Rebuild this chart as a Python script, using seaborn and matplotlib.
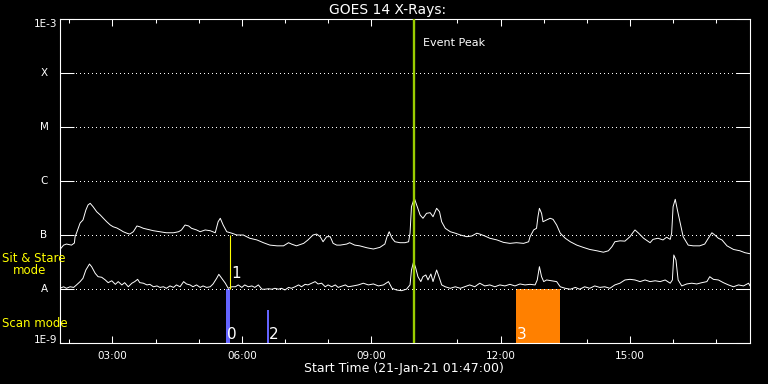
import numpy as np
import pandas as pd
import matplotlib
matplotlib.use("Agg")
import matplotlib.pyplot as plt
import matplotlib.dates as mdates
from matplotlib.ticker import NullLocator
import seaborn as sns

# time window of the plot
start = pd.Timestamp("2021-01-21 01:47:00")
end = pd.Timestamp("2021-01-21 17:47:00")

# long channel (1-8 A), minutes after start and flux in 1e-8 W/m^2
long_min = [0, 5, 9, 16, 20, 21, 23, 28, 32, 36,
            39, 42, 46, 51, 56, 60, 65, 70, 74, 79,
            84, 88, 93, 97, 102, 107, 111, 116, 121, 130,
            139, 148, 158, 165, 169, 174, 179, 183, 190, 195,
            202, 209, 216, 220, 223, 227, 232, 239, 246, 255,
            264, 274, 283, 292, 302, 311, 318, 322, 329, 339,
            345, 352, 357, 362, 366, 371, 376, 380, 385, 390,
            399, 403, 410, 417, 427, 436, 445, 452, 455, 458,
            462, 466, 473, 480, 485, 487, 489, 493, 497, 501,
            505, 510, 515, 519, 524, 528, 531, 536, 543, 550,
            557, 566, 573, 580, 584, 591, 598, 608, 617, 626,
            635, 645, 652, 654, 659, 663, 665, 667, 670, 672,
            677, 682, 686, 691, 696, 703, 710, 719, 728, 737,
            747, 756, 763, 768, 772, 779, 786, 793, 798, 800,
            805, 812, 821, 825, 832, 839, 844, 849, 851, 853,
            856, 859, 863, 867, 874, 881, 890, 897, 902, 907,
            911, 916, 921, 928, 937, 946, 953, 960]
long_flux = [5.4, 6.5, 6.8, 6.5, 7.1, 9.3, 10.9, 16.7, 19.0, 29,
             36, 38.6, 33.4, 27, 23.5, 20.6, 17.6, 15.3, 14.2, 13.5,
             12.4, 11.5, 10.8, 10.4, 11.5, 14.7, 14.2, 13.3, 12.8, 12.0,
             11.5, 11.0, 11.0, 11.5, 12.4, 15.3, 14.7, 13.3, 12.4, 11.5,
             12.4, 12.0, 11.0, 17.6, 20.4, 15.3, 11.5, 10.8, 10.0, 10.0,
             8.7, 8.1, 7.2, 6.5, 6.3, 6.3, 7.2, 6.8, 6.3, 7.0,
             8.1, 10.0, 10.4, 9.3, 7.5, 9.3, 9.3, 7.0, 6.5, 6.5,
             6.8, 7.2, 6.5, 6.3, 5.8, 5.5, 5.9, 6.8, 9.3, 11.5,
             8.7, 7.5, 7.2, 7.2, 7.5, 10.8, 33.4, 47.8, 33.4, 23.5,
             20.4, 25.2, 25.9, 21.8, 31.2, 27, 17.6, 13.3, 11.5, 10.8,
             10.0, 9.3, 9.6, 10.8, 10.4, 9.6, 8.7, 8.1, 7.3, 7.0,
             7.2, 7.0, 7.5, 9.3, 12.4, 13.3, 21.8, 31.2, 25.2, 17.6,
             19.0, 20.4, 19.5, 15.3, 10.8, 8.7, 7.5, 6.5, 5.9, 5.4,
             5.1, 4.8, 5.1, 6.1, 7.5, 7.8, 7.7, 9.3, 11.5, 12.4,
             10.8, 8.7, 7.2, 8.3, 8.7, 8.1, 9.1, 8.3, 10.8, 33.4,
             45.8, 29, 16.5, 9.3, 6.5, 6.3, 6.3, 6.8, 8.7, 11.0,
             10.0, 8.7, 8.1, 6.3, 5.4, 5.1, 4.7, 4.5]

# short channel (0.5-4 A), same units
short_min = [0, 5, 9, 14, 19, 23, 28, 32, 36, 41,
             44, 49, 53, 58, 63, 67, 72, 77, 81, 86,
             90, 95, 100, 104, 108, 111, 116, 121, 125, 130,
             135, 139, 144, 148, 153, 158, 162, 167, 172, 176,
             181, 185, 190, 195, 199, 204, 209, 213, 218, 221,
             225, 230, 234, 239, 244, 248, 253, 257, 262, 267,
             271, 276, 281, 285, 290, 295, 299, 304, 308, 313,
             318, 322, 327, 332, 336, 341, 345, 350, 355, 359,
             364, 369, 373, 378, 383, 387, 397, 401, 408, 415,
             422, 429, 436, 443, 450, 457, 462, 468, 475, 482,
             487, 489, 492, 495, 498, 502, 505, 509, 512, 516,
             519, 524, 528, 531, 536, 543, 550, 557, 563, 570,
             577, 584, 591, 598, 605, 612, 619, 626, 633, 640,
             647, 654, 661, 664, 667, 670, 673, 677, 684, 691,
             696, 703, 710, 717, 723, 730, 737, 744, 751, 758,
             765, 772, 779, 786, 793, 800, 807, 814, 821, 828,
             835, 842, 849, 852, 854, 857, 860, 865, 872, 879,
             886, 893, 900, 904, 909, 916, 923, 930, 937, 944,
             951, 958, 960]
short_flux = [1.03, 1.10, 1.03, 1.10, 1.07, 1.19, 1.37, 1.58, 2.25, 2.90,
              2.59, 1.95, 1.69, 1.65, 1.47, 1.31, 1.42, 1.22, 1.37, 1.19,
              1.31, 1.10, 1.28, 1.37, 1.51, 1.31, 1.28, 1.19, 1.22, 1.10,
              1.14, 1.07, 1.10, 1.03, 1.14, 1.07, 1.19, 1.10, 1.37, 1.24,
              1.19, 1.10, 1.19, 1.07, 1.14, 1.07, 1.10, 1.24, 1.58, 1.87,
              1.58, 1.28, 1.03, 1.10, 1.10, 1.19, 1.07, 1.19, 1.10, 1.14,
              1.07, 1.19, 0.99, 0.99, 1.01, 0.99, 1.03, 0.99, 1.03, 0.96,
              1.07, 1.03, 1.10, 1.19, 1.10, 1.22, 1.19, 1.28, 1.37, 1.24,
              1.28, 1.10, 1.19, 1.10, 1.19, 1.07, 1.19, 1.10, 1.14, 1.19,
              1.28, 1.19, 1.24, 1.14, 1.19, 1.37, 1.03, 0.96, 0.93, 0.99,
              1.19, 2.25, 3.20, 2.42, 1.69, 1.37, 1.69, 1.82, 1.47, 1.90,
              1.37, 2.25, 1.58, 1.19, 1.10, 1.03, 1.10, 1.03, 1.10, 1.19,
              1.10, 1.28, 1.14, 1.19, 1.10, 1.19, 1.14, 1.22, 1.14, 1.24,
              1.19, 1.22, 1.19, 1.47, 2.59, 1.69, 1.37, 1.47, 1.42, 1.37,
              1.10, 1.03, 0.99, 1.07, 0.99, 1.10, 1.03, 1.14, 1.07, 1.10,
              1.03, 1.19, 1.28, 1.47, 1.51, 1.47, 1.37, 1.47, 1.37, 1.42,
              1.37, 1.47, 1.28, 1.47, 4.26, 3.44, 1.47, 1.14, 1.24, 1.28,
              1.24, 1.31, 1.37, 1.69, 1.51, 1.47, 1.31, 1.19, 1.10, 1.19,
              1.14, 1.28, 1.14]

# GOES class levels
class_labels = ["A", "B", "C", "M", "X"]
class_levels = [1e-8, 1e-7, 1e-6, 1e-5, 1e-4]

# event peak and sit & stare marker
peak_time = "09:59"
sit_time = "05:43"
sit_label = "1"

# scan mode intervals
scan_labels = ["0", "2", "3"]
scan_start = ["05:38", "06:35", "12:21"]
scan_end = ["05:43", "06:38", "13:23"]
scan_top = [1e-8, 4.1e-9, 1e-8]
scan_colors = ["#6464ff", "#6464ff", "#ff8000"]


def clock(hm):
    return pd.Timestamp("2021-01-21 " + hm)


long_df = pd.DataFrame({"time": start + pd.to_timedelta(long_min, unit="min"),
                        "flux": np.array(long_flux) * 1e-8})
short_df = pd.DataFrame({"time": start + pd.to_timedelta(short_min, unit="min"),
                         "flux": np.array(short_flux) * 1e-8})

sns.set_style("ticks", {"axes.facecolor": "black", "figure.facecolor": "black",
                        "axes.edgecolor": "white", "xtick.color": "white",
                        "ytick.color": "white", "text.color": "white",
                        "axes.labelcolor": "white",
                        "xtick.direction": "in", "ytick.direction": "in"})
plt.rcParams["font.family"] = ["DejaVu Sans"]

fig = plt.figure(figsize=(7.68, 3.84), dpi=100)
fig.patch.set_facecolor("black")
ax = fig.add_axes([60 / 768, 41 / 384, 690 / 768, 324 / 384])
ax.set_facecolor("black")

# scan mode bars
for lab, s, e, top, c in zip(scan_labels, scan_start, scan_end, scan_top, scan_colors):
    ax.fill_between([clock(s), clock(e)], 1e-9, top, color=c, lw=0, zorder=1)
    ax.annotate(lab, (clock(s), 1e-9), xytext=(1, 3), textcoords="offset points",
                ha="left", va="baseline", fontsize=11, color="white", zorder=5)

# dotted class lines
for lvl in class_levels:
    ax.axhline(lvl, color="white", lw=0.72, ls=(0, (1, 3)), antialiased=False, zorder=2)

sns.lineplot(data=long_df, x="time", y="flux", ax=ax, color="white",
             lw=0.7, zorder=3)
sns.lineplot(data=short_df, x="time", y="flux", ax=ax, color="white",
             lw=0.7, zorder=3)

# sit & stare marker
ax.vlines(clock(sit_time), class_levels[0], class_levels[1], color="yellow", lw=0.8, zorder=4)
ax.annotate(sit_label, (clock(sit_time), class_levels[0]), xytext=(1.5, 8),
            textcoords="offset points", ha="left", va="baseline",
            fontsize=11, color="white")

# event peak
ax.axvline(clock(peak_time), color="#9acd00", lw=1.7, zorder=4)
ax.annotate("Event Peak", (clock(peak_time), 1e-3), xytext=(6.8, -17),
            textcoords="offset points", ha="left", va="center",
            fontsize=8, color="white")

ax.set_yscale("log")
ax.set_ylim(1e-9, 1e-3)
ax.set_xlim(start, end)
ax.set_xlabel("")
ax.set_ylabel("")

ax.set_yticks([1e-9] + class_levels + [1e-3])
ax.set_yticklabels([])
ax.yaxis.set_minor_locator(NullLocator())
ax.tick_params(axis="y", which="major", length=10, width=0.75, direction="in",
               left=True, right=True)

ax.xaxis.set_major_locator(mdates.HourLocator(byhour=[3, 6, 9, 12, 15]))
ax.xaxis.set_minor_locator(mdates.HourLocator())
ax.xaxis.set_major_formatter(mdates.DateFormatter("%H:%M"))
ax.tick_params(axis="x", which="major", length=5, width=0.75, direction="in",
               top=True, bottom=True, pad=6, labelsize=7.5)
ax.tick_params(axis="x", which="minor", length=2.9, width=0.75, direction="in",
               top=True, bottom=True)

for sp in ax.spines.values():
    sp.set_color("white")
    sp.set_linewidth(0.8)

# y labels
ax.annotate("1E-3", (0, 1e-3), xycoords=("axes fraction", "data"), xytext=(-2, 0),
            textcoords="offset points", ha="right", va="top", fontsize=7.5)
ax.annotate("1E-9", (0, 1e-9), xycoords=("axes fraction", "data"), xytext=(-2, 0),
            textcoords="offset points", ha="right", va="baseline", fontsize=7.5)
for lab, lvl in zip(class_labels, class_levels):
    ax.annotate(lab, (0, lvl), xycoords=("axes fraction", "data"), xytext=(-11.5, 0),
                textcoords="offset points", ha="center", va="center", fontsize=7.5)

fig.text(388 / 768, 1 - 10 / 384, "GOES 14 X-Rays:", ha="center", va="center",
         fontsize=10, color="white")
fig.text(404 / 768, 1 - 368.5 / 384, "Start Time (21-Jan-21 01:47:00)", ha="center",
         va="center", fontsize=9, color="white")

fig.text(2 / 768, 1 - 258.5 / 384, "Sit & Stare", ha="left", va="center",
         fontsize=8.5, color="yellow")
fig.text(13 / 768, 1 - 271 / 384, "mode", ha="left", va="center",
         fontsize=8.5, color="yellow")
fig.text(2 / 768, 1 - 323.5 / 384, "Scan mode", ha="left", va="center",
         fontsize=8.5, color="yellow")

fig.savefig("out.png", dpi=100, facecolor="black")
